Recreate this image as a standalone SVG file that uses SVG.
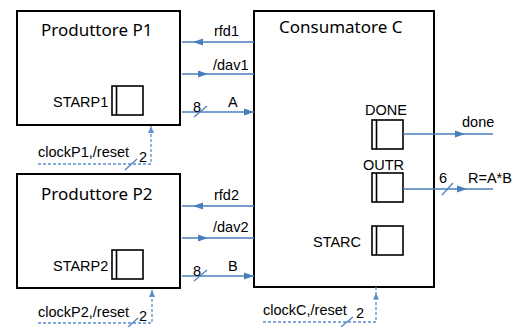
<svg xmlns="http://www.w3.org/2000/svg" width="524" height="327" viewBox="0 0 524 327">
<defs>
<style>
.box{fill:#fff;stroke:#000;stroke-width:2}
.reg{fill:#fff;stroke:#000;stroke-width:1.6}
.title{font-family:"Noto Sans","Open Sans",sans-serif;font-size:17px;fill:#000}
.lbl{font-family:"Liberation Sans",Arial,sans-serif;font-size:14.5px;fill:#000}
.sig{fill:none;stroke:#4a7ebb;stroke-width:1.5}
.clk{fill:none;stroke:#5b8fd0;stroke-width:1.3;stroke-dasharray:3 2}
.tick{stroke:#4a7ebb;stroke-width:1.2}
</style>
<marker id="ah" markerUnits="userSpaceOnUse" markerWidth="11" markerHeight="8" refX="10" refY="4" orient="auto">
<path d="M0,0.5 L10,4 L0,7.5 Z" fill="#4a7ebb"/>
</marker>
<marker id="ahc" markerUnits="userSpaceOnUse" markerWidth="8" markerHeight="8" refX="7" refY="3.5" orient="auto">
<path d="M0,0.5 L7,3.5 L0,6.5 Z" fill="#5b8fd0"/>
</marker>
</defs>

<g id="P1">
<rect class="box" x="17" y="11" width="163" height="114"/>
<text class="title" x="41" y="36">Produttore P1</text>
<text class="lbl" x="53" y="107">STARP1</text>
<rect class="reg" x="112" y="86" width="31" height="29"/>
<line x1="116.5" y1="86" x2="116.5" y2="115" stroke="#000" stroke-width="1.6"/>
</g>

<g id="P2">
<rect class="box" x="17" y="174" width="163" height="114"/>
<text class="title" x="41" y="200">Produttore P2</text>
<text class="lbl" x="53" y="271">STARP2</text>
<rect class="reg" x="112" y="250" width="31" height="29"/>
<line x1="116.5" y1="250" x2="116.5" y2="279" stroke="#000" stroke-width="1.6"/>
</g>

<g id="C">
<rect class="box" x="254" y="11" width="180" height="276"/>
<text class="title" x="279" y="33">Consumatore C</text>
<text class="lbl" x="365" y="115">DONE</text>
<rect class="reg" x="372" y="120" width="31" height="29"/>
<line x1="376.5" y1="120" x2="376.5" y2="149" stroke="#000" stroke-width="1.6"/>
<text class="lbl" x="363" y="170">OUTR</text>
<rect class="reg" x="372" y="173" width="31" height="29"/>
<line x1="376.5" y1="173" x2="376.5" y2="202" stroke="#000" stroke-width="1.6"/>
<text class="lbl" x="313" y="247">STARC</text>
<rect class="reg" x="372" y="226" width="31" height="29"/>
<line x1="376.5" y1="226" x2="376.5" y2="255" stroke="#000" stroke-width="1.6"/>
</g>

<g id="connectors">
<path class="sig" d="M254,42 H193 H182" marker-mid="url(#ah)"/>
<path class="sig" d="M182,74 H208 H254" marker-mid="url(#ah)"/>
<path class="sig" d="M182,112 H254" marker-end="url(#ah)"/>
<line class="tick" x1="194" y1="117" x2="207" y2="106"/>
<path class="sig" d="M254,206 H193 H182" marker-mid="url(#ah)"/>
<path class="sig" d="M182,238 H208 H254" marker-mid="url(#ah)"/>
<path class="sig" d="M182,276 H254" marker-end="url(#ah)"/>
<line class="tick" x1="194" y1="281" x2="207" y2="270"/>
<path class="sig" d="M403,134 H465 H493" marker-mid="url(#ah)"/>
<path class="sig" d="M403,189 H467 H493" marker-mid="url(#ah)"/>
<line class="tick" x1="442" y1="195" x2="453" y2="183"/>
<path class="clk" d="M38,164 H151 V126" marker-end="url(#ahc)"/>
<line class="tick" x1="125" y1="170" x2="137" y2="159"/>
<path class="clk" d="M38,323 H152 V290" marker-end="url(#ahc)"/>
<line class="tick" x1="126" y1="329" x2="138" y2="318"/>
<path class="clk" d="M263,322 H376 V287"/>
<path d="M376,293 L373,299.5 L379,299.5 Z" fill="#5b8fd0"/>
<line class="tick" x1="341" y1="327" x2="353" y2="317"/>
<text class="lbl" x="214" y="36">rfd1</text>
<text class="lbl" x="213" y="70">/dav1</text>
<text class="lbl" x="193" y="112">8</text>
<text class="lbl" x="228" y="107">A</text>
<text class="lbl" x="214" y="200">rfd2</text>
<text class="lbl" x="213" y="232">/dav2</text>
<text class="lbl" x="193" y="276">8</text>
<text class="lbl" x="228" y="271">B</text>
<text class="lbl" x="462" y="127">done</text>
<text class="lbl" x="439" y="183">6</text>
<text class="lbl" x="468" y="183">R=A*B</text>
<text class="lbl" x="38" y="157">clockP1,/reset</text>
<text class="lbl" x="139" y="162">2</text>
<text class="lbl" x="38" y="317">clockP2,/reset</text>
<text class="lbl" x="139" y="321">2</text>
<text class="lbl" x="263" y="315">clockC,/reset</text>
<text class="lbl" x="356" y="318">2</text>
</g>
</svg>
